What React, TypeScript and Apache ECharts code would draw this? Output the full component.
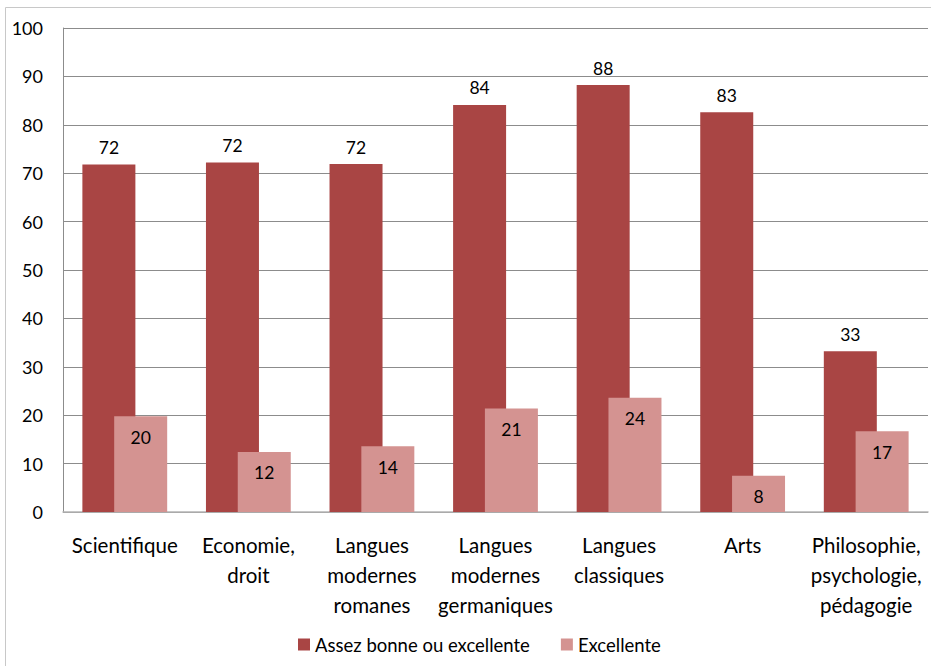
import React, { useEffect, useRef } from "react";
import * as echarts from "echarts";

const categories = [
  "Scientifique",
  "Economie,\ndroit",
  "Langues\nmodernes\nromanes",
  "Langues\nmodernes\ngermaniques",
  "Langues\nclassiques",
  "Arts",
  "Philosophie,\npsychologie,\npédagogie",
];
const seriesNames = ["Assez bonne ou excellente", "Excellente"];
const assezBonne = [71.8, 72.2, 71.9, 84.1, 88.2, 82.6, 33.2];
const excellente = [19.8, 12.4, 13.6, 21.4, 23.6, 7.5, 16.7];
const yTicks = { min: 0, max: 100, interval: 10 };

const FONT = "Lato, 'Open Sans', sans-serif";

export default function App() {
  const ref = useRef<HTMLDivElement>(null);
  useEffect(() => {
    document.body.style.margin = "0";
    const chart = echarts.init(ref.current!, null, { renderer: "svg" });
    chart.setOption({
      animation: false,
      backgroundColor: "#ffffff",
      textStyle: { fontFamily: FONT },
      graphic: [
        {
          type: "rect",
          shape: { x: 5.5, y: 7.5, width: 960, height: 700 },
          style: { fill: "none", stroke: "#c8c8c8", lineWidth: 1 },
          silent: true,
        },
      ],
      grid: { left: 63, right: 3, top: 28, bottom: 154, containLabel: false },
      legend: {
        bottom: 7,
        left: 293,
        itemWidth: 12,
        itemHeight: 12,
        itemGap: 31,
        icon: "rect",
        textStyle: { fontSize: 18.5, color: "#000", fontFamily: FONT },
        data: seriesNames,
      },
      xAxis: {
        type: "category",
        data: categories,
        axisTick: { show: false },
        axisLine: { lineStyle: { color: "#b4b4b4", width: 1.5 } },
        axisLabel: {
          interval: 0,
          fontSize: 20.5,
          lineHeight: 30,
          color: "#000",
          margin: 18,
          fontFamily: FONT,
        },
      },
      yAxis: {
        type: "value",
        min: yTicks.min,
        max: yTicks.max,
        interval: yTicks.interval,
        axisLine: { show: true, lineStyle: { color: "#8c8c8c" } },
        axisTick: { show: false },
        splitLine: { lineStyle: { color: "#8c8c8c" } },
        axisLabel: { fontSize: 18, color: "#000", margin: 20, fontFamily: FONT },
      },
      series: [
        {
          name: seriesNames[0],
          type: "bar",
          data: assezBonne,
          barWidth: 53,
          barGap: "-40%",
          itemStyle: { color: "#A94544" },
          label: {
            show: true,
            position: "top",
            distance: 8,
            fontSize: 17.5,
            color: "#000",
            fontFamily: FONT,
            formatter: (p: any) => String(Math.round(p.value)),
          },
        },
        {
          name: seriesNames[1],
          type: "bar",
          data: excellente,
          barWidth: 53,
          itemStyle: { color: "#D49391" },
          label: {
            show: true,
            position: "insideTop",
            distance: 12,
            fontSize: 17.5,
            color: "#000",
            fontFamily: FONT,
            formatter: (p: any) => String(Math.round(p.value)),
          },
        },
      ],
    });
    return () => chart.dispose();
  }, []);
  return <div ref={ref} style={{ width: 931, height: 666 }} />;
}
